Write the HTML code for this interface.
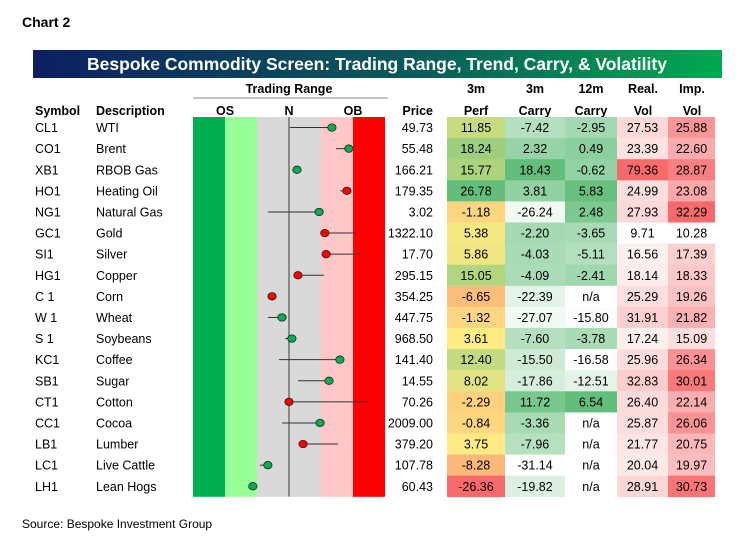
<!DOCTYPE html>
<html><head><meta charset="utf-8"><style>
body{margin:0;background:#fff;width:750px;height:550px;overflow:hidden;font-family:"Liberation Sans",sans-serif}
svg text{font-family:"Liberation Sans",sans-serif}
</style></head><body>
<svg id="c" width="750" height="550" xmlns="http://www.w3.org/2000/svg">
<defs><linearGradient id="tg" x1="0" x2="1"><stop offset="0" stop-color="#0c1f63"/><stop offset="0.55" stop-color="#0b5a5a"/><stop offset="1" stop-color="#00a94f"/></linearGradient></defs>
<text x="22" y="27" font-size="14" font-weight="bold">Chart 2</text>
<rect x="33" y="50" width="689" height="28" fill="url(#tg)"/>
<text x="377" y="70" font-size="17.5" font-weight="bold" fill="#fff" text-anchor="middle">Bespoke Commodity Screen: Trading Range, Trend, Carry, &amp; Volatility</text>
<text x="289" y="93" font-size="12.5" font-weight="bold" text-anchor="middle">Trading Range</text>
<line x1="193" y1="98" x2="388" y2="98" stroke="#888"/>
<text x="395" y="115" font-size="12.5" font-weight="bold" text-anchor="end"></text>
<text x="35" y="115" font-size="12.5" font-weight="bold">Symbol</text>
<text x="96" y="115" font-size="12.5" font-weight="bold">Description</text>
<text x="225" y="115" font-size="12.5" font-weight="bold" text-anchor="middle">OS</text>
<text x="289" y="115" font-size="12.5" font-weight="bold" text-anchor="middle">N</text>
<text x="353" y="115" font-size="12.5" font-weight="bold" text-anchor="middle">OB</text>
<text x="433" y="115" font-size="12.5" font-weight="bold" text-anchor="end">Price</text>
<text x="476" y="93" font-size="12.5" font-weight="bold" text-anchor="middle">3m</text>
<text x="476" y="115" font-size="12.5" font-weight="bold" text-anchor="middle">Perf</text>
<text x="535" y="93" font-size="12.5" font-weight="bold" text-anchor="middle">3m</text>
<text x="535" y="115" font-size="12.5" font-weight="bold" text-anchor="middle">Carry</text>
<text x="591" y="93" font-size="12.5" font-weight="bold" text-anchor="middle">12m</text>
<text x="591" y="115" font-size="12.5" font-weight="bold" text-anchor="middle">Carry</text>
<text x="643" y="93" font-size="12.5" font-weight="bold" text-anchor="middle">Real.</text>
<text x="643" y="115" font-size="12.5" font-weight="bold" text-anchor="middle">Vol</text>
<text x="692" y="93" font-size="12.5" font-weight="bold" text-anchor="middle">Imp.</text>
<text x="692" y="115" font-size="12.5" font-weight="bold" text-anchor="middle">Vol</text>
<g id="g"></g>
<text x="22" y="528" font-size="12">Source: Bespoke Investment Group</text>
</svg>
<script>
const symbols=["CL1","CO1","XB1","HO1","NG1","GC1","SI1","HG1","C 1","W 1","S 1","KC1","SB1","CT1","CC1","LB1","LC1","LH1"];
const descriptions=["WTI","Brent","RBOB Gas","Heating Oil","Natural Gas","Gold","Silver","Copper","Corn","Wheat","Soybeans","Coffee","Sugar","Cotton","Cocoa","Lumber","Live Cattle","Lean Hogs"];
const prices=["49.73","55.48","166.21","179.35","3.02","1322.10","17.70","295.15","354.25","447.75","968.50","141.40","14.55","70.26","2009.00","379.20","107.78","60.43"];
const rangeNow=[1.34,1.87,0.25,1.81,0.94,1.12,1.16,0.28,-0.53,-0.22,0.09,1.59,1.25,0,0.97,0.44,-0.66,-1.13];
const rangePrev=[0.03,1.47,0.25,1.6,-0.66,2.09,2.19,1.09,-0.53,-0.66,-0.12,-0.31,0.28,2.47,-0.22,1.53,-0.91,-1.13];
const dotRed=[0,0,0,1,0,1,1,1,1,0,0,0,0,1,0,1,0,0];
const perf=[11.85,18.24,15.77,26.78,-1.18,5.38,5.86,15.05,-6.65,-1.32,3.61,12.40,8.02,-2.29,-0.84,3.75,-8.28,-26.36];
const carry3=[-7.42,2.32,18.43,3.81,-26.24,-2.20,-4.03,-4.09,-22.39,-27.07,-7.60,-15.50,-17.86,11.72,-3.36,-7.96,-31.14,-19.82];
const carry12=[-2.95,0.49,-0.62,5.83,2.48,-3.65,-5.11,-2.41,null,-15.80,-3.78,-16.58,-12.51,6.54,null,null,null,null];
const realVol=[27.53,23.39,79.36,24.99,27.93,9.71,16.56,18.14,25.29,31.91,17.24,25.96,32.83,26.40,25.87,21.77,20.04,28.91];
const impVol=[25.88,22.60,28.87,23.08,32.29,10.28,17.39,18.33,19.26,21.82,15.09,26.34,30.01,22.14,26.06,20.75,19.97,30.73];

const NS="http://www.w3.org/2000/svg",G=document.getElementById('g');
const top0=117,rh=21.1;
const xR=v=>289+v*32, yR=i=>top0+i*rh;
function el(t,a){const e=document.createElementNS(NS,t);for(const k in a)e.setAttribute(k,a[k]);G.appendChild(e);return e;}
function mix(c1,c2,t){t=Math.max(0,Math.min(1,t));return 'rgb('+c1.map((c,i)=>Math.round(c+(c2[i]-c)*t)).join(',')+')';}
const RED=[248,105,107],YEL=[255,235,132],GRN=[99,190,123],WH=[255,255,255];
function perfColor(v){const mn=Math.min(...perf),mx=Math.max(...perf),md=3.7;return v<md?mix(RED,YEL,(v-mn)/(md-mn)):mix(YEL,GRN,(v-md)/(mx-md));}
function scaleColor(arr,v,c){if(v==null)return '#fff';const a=arr.filter(x=>x!=null),mn=Math.min(...a),mx=Math.max(...a);return mix(WH,c,(v-mn)/(mx-mn));}
const H=symbols.length*rh;
// bands
[[193,225,'#00b050'],[225,257,'#99ff99'],[257,321,'#d9d9d9'],[321,353,'#ffc7c7'],[353,385,'#ff0000']].forEach((b,k)=>{
 const r=el('rect',{x:b[0],y:top0,width:b[1]-b[0],height:H,fill:b[2]});
 
 
});
const nl=el('line',{x1:289,y1:top0,x2:289,y2:top0+H,stroke:'#555','stroke-width':1.2});


const cols=[[447,505,perf,perfColor],[505,565,carry3,v=>scaleColor(carry3,v,GRN)],[565,617,carry12,v=>scaleColor(carry12,v,GRN)],[617,668,realVol,v=>scaleColor(realVol,v,RED)],[668,715,impVol,v=>scaleColor(impVol,v,RED)]];
const colNames=['perf','carry-3m','carry-12m','real-vol','imp-vol'];
symbols.forEach((s,i)=>{
 const y=yR(i),cy=y+rh/2,ty=cy+4.5;
 let t=el('text',{x:35,y:ty,'font-size':12.5});t.textContent=s;
 
 
 t=el('text',{x:96,y:ty,'font-size':12.5});t.textContent=descriptions[i];
 
 
 t=el('text',{x:433,y:ty,'font-size':12.5,'text-anchor':'end'});t.textContent=prices[i];
 
 
 if(rangePrev[i]!==rangeNow[i]){
  const l=el('line',{x1:xR(rangePrev[i]),y1:cy,x2:xR(rangeNow[i]),y2:cy,stroke:'#333','stroke-width':1});
  
  
 }
 const d=el('ellipse',{cx:xR(rangeNow[i]),cy:cy,rx:4.2,ry:3.7,fill:dotRed[i]?'#ff0000':'#00b050',stroke:'#222','stroke-width':0.8});
 
 
 cols.forEach((c,k)=>{
  const v=c[2][i];
  const r=el('rect',{x:c[0],y:y,width:c[1]-c[0],height:rh+0.3,fill:c[3](v)});
  
  
  const tx=el('text',{x:(c[0]+c[1])/2,y:ty,'font-size':12.5,'text-anchor':'middle'});
  tx.textContent=v==null?'n/a':v.toFixed(2);
  
  
 });
});
</script>
</body></html>
